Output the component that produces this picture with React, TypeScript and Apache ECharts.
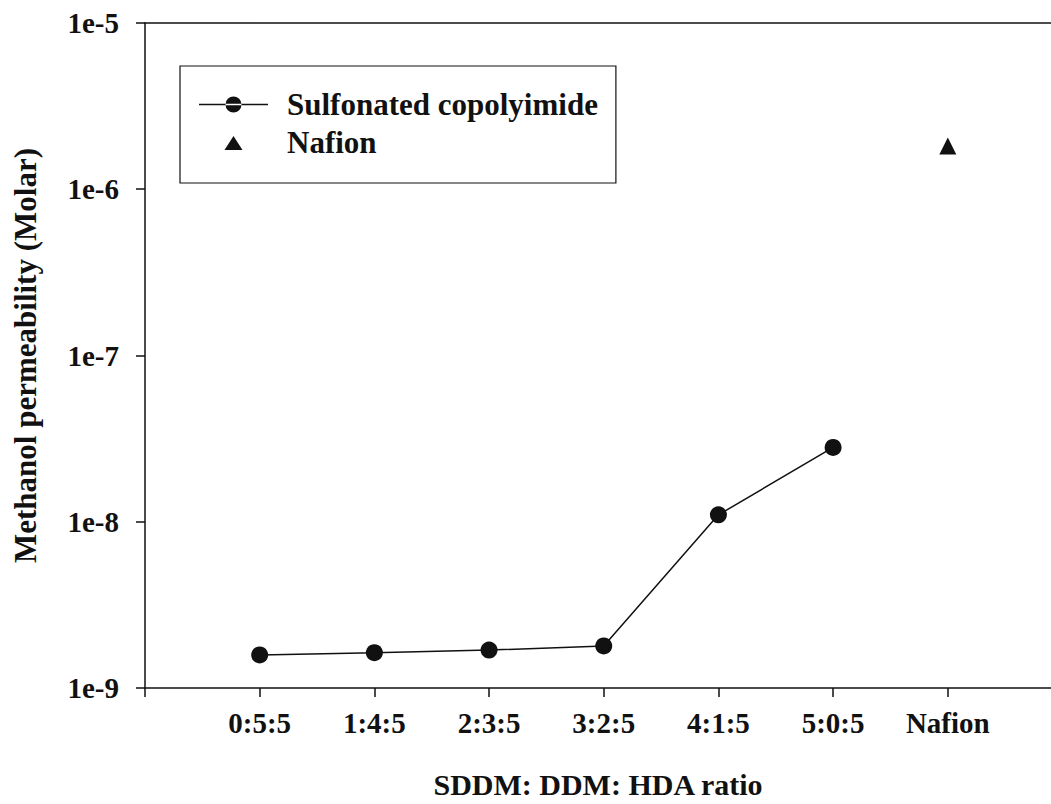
import React, { useEffect, useRef } from "react";
import * as echarts from "echarts";

const categories = ["0:5:5", "1:4:5", "2:3:5", "3:2:5", "4:1:5", "5:0:5", "Nafion"];
const copolyimideValues = [1.58e-9, 1.63e-9, 1.69e-9, 1.79e-9, 1.1e-8, 2.8e-8];
const nafionValues = [1.82e-6];
const yTickLabels = ["1e-9", "1e-8", "1e-7", "1e-6", "1e-5"];
const xTickPositions = [0, 1, 2, 3, 4, 5, 6, 7];
const xLabelPositions = [1, 2, 3, 4, 5, 6, 7];

const FONT = "'Liberation Serif', 'Times New Roman', serif";
const INK = "#111";

// legend icons with a fixed 69x16 bounding box (tiny corner anchors keep the box)
const ANCHORS = "M0,0L0.01,0L0,0.01Z M69,16L68.99,16L69,15.99Z ";
const LINE_ICON = "path://" + ANCHORS + "M0,7.3L69,7.3L69,8.7L0,8.7Z M26.5,8A8,8 0 1,0 42.5,8A8,8 0 1,0 26.5,8Z";
const TRI_ICON = "path://" + ANCHORS + "M25.5,15.5L34.5,1.5L43.5,15.5Z";

export default function App() {
  const ref = useRef<HTMLDivElement>(null);
  useEffect(() => {
    if (!ref.current) return;
    const chart = echarts.init(ref.current, undefined, { renderer: "svg" });
    const copolyData = copolyimideValues.map((v, i) => [i + 1, v]);
    const nafionData = nafionValues.map((v) => [categories.indexOf("Nafion") + 1, v]);
    chart.setOption({
      animation: false,
      backgroundColor: "#fff",
      textStyle: { fontFamily: FONT },
      grid: {
        left: 145,
        top: 23,
        bottom: 116,
        right: 0,
        show: false,
        containLabel: false,
        outerBoundsMode: "none",
      },
      legend: {
        orient: "vertical",
        left: 180,
        top: 66,
        backgroundColor: "#fff",
        borderColor: INK,
        borderWidth: 1.2,
        borderRadius: 0,
        padding: [23, 18, 25, 19],
        itemWidth: 69,
        itemHeight: 16,
        itemGap: 7,
        symbolKeepAspect: true,
        itemStyle: { opacity: 1 },
        textStyle: {
          fontFamily: FONT,
          fontWeight: "bold",
          fontSize: 31,
          color: INK,
          padding: [0, 0, 0, 14],
        },
        data: [
          { name: "Sulfonated copolyimide", icon: LINE_ICON },
          { name: "Nafion", icon: TRI_ICON, itemStyle: { color: INK, opacity: 1 } },
        ],
      },
      xAxis: [
        {
          type: "value",
          position: "bottom",
          min: 0,
          max: 7.9,
          interval: 1,
          splitLine: { show: false },
          axisLine: { show: true, lineStyle: { color: INK, width: 1.5 } },
          axisTick: {
            show: true,
            inside: false,
            length: 9,
            customValues: xTickPositions,
            lineStyle: { color: INK, width: 1.5 },
          },
          axisLabel: {
            margin: 20,
            fontFamily: FONT,
            fontWeight: "bold",
            fontSize: 29,
            color: INK,
            customValues: xLabelPositions,
            formatter: (v: number) =>
              Number.isInteger(v) && v >= 1 && v <= categories.length ? categories[v - 1] : "",
          },
          name: "SDDM: DDM: HDA ratio",
          nameLocation: "middle",
          nameGap: 80,
          nameTextStyle: { fontFamily: FONT, fontWeight: "bold", fontSize: 30, color: INK, lineHeight: 32 },
        },
        {
          type: "value",
          position: "top",
          min: 0,
          max: 7.9,
          interval: 1,
          splitLine: { show: false },
          axisLine: { show: true, lineStyle: { color: INK, width: 1.5 } },
          axisTick: { show: false },
          axisLabel: { show: false },
        },
      ],
      yAxis: {
        type: "log",
        logBase: 10,
        min: 1e-9,
        max: 1e-5,
        splitLine: { show: false },
        minorTick: { show: false },
        axisLine: { show: true, lineStyle: { color: INK, width: 1.5 } },
        axisTick: { show: true, inside: false, length: 9, lineStyle: { color: INK, width: 1.5 } },
        axisLabel: {
          margin: 26,
          fontFamily: FONT,
          fontWeight: "bold",
          fontSize: 29,
          color: INK,
          formatter: (v: number) => {
            const e = Math.round(Math.log10(v));
            const lbl = "1e" + e;
            return yTickLabels.includes(lbl) ? lbl : "";
          },
        },
        name: "Methanol permeability (Molar)",
        nameLocation: "middle",
        nameGap: 104,
        nameTextStyle: { fontFamily: FONT, fontWeight: "bold", fontSize: 31, color: INK },
      },
      series: [
        {
          name: "Sulfonated copolyimide",
          type: "line",
          xAxisIndex: 0,
          data: copolyData,
          symbol: "circle",
          symbolSize: 17,
          lineStyle: { color: INK, width: 1.5 },
          itemStyle: { color: INK, opacity: 1 },
        },
        {
          name: "Nafion",
          type: "scatter",
          xAxisIndex: 0,
          data: nafionData,
          symbol: "triangle",
          symbolSize: 17,
          itemStyle: { color: INK, opacity: 1 },
        },
      ],
    });
    return () => chart.dispose();
  }, []);
  return <div ref={ref} style={{ width: 1051, height: 804, position: "absolute", left: 0, top: 0 }} />;
}
